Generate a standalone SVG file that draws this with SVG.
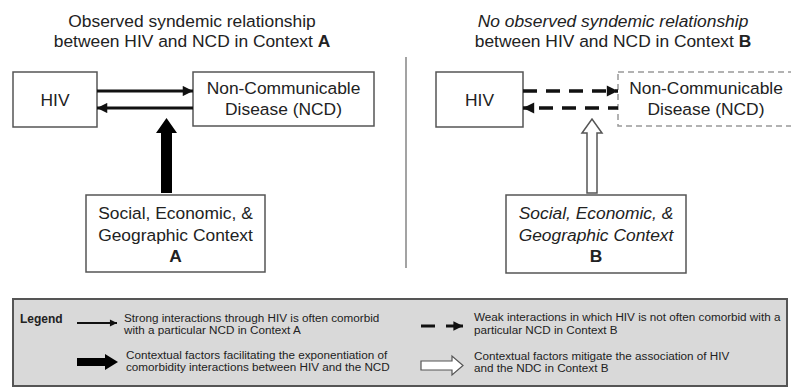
<svg xmlns="http://www.w3.org/2000/svg" width="791" height="391" viewBox="0 0 791 391">
<defs>
<style>
.t{font-family:"Liberation Sans",Arial,sans-serif;fill:#222;}
.big{font-size:17.4px;}
.it{font-style:italic;}
.lg{font-size:11.7px;fill:#222;}
.box{fill:#fff;stroke:#555;stroke-width:1.5;}
.dbox{fill:#fff;stroke:#999;stroke-width:1.5;stroke-dasharray:6 4;}
.ln{stroke:#111;stroke-width:3.2;fill:none;}
.dash{stroke:#111;stroke-width:3.5;fill:none;stroke-dasharray:14 9;}
</style>
<marker id="ah" viewBox="0 0 10 10" refX="10" refY="5" markerWidth="4" markerHeight="3.2" markerUnits="strokeWidth" orient="auto">
<path d="M0,0 L10,5 L0,10 z" fill="#111"/>
</marker>
</defs>
<rect width="791" height="391" fill="#fff"/>

<g id="titles">
<text class="t big" x="192" y="27" text-anchor="middle">Observed syndemic relationship</text>
<text class="t big" x="192" y="47" text-anchor="middle">between HIV and NCD in Context <tspan font-weight="bold">A</tspan></text>
<text class="t big it" x="613" y="27" text-anchor="middle">No observed syndemic relationship</text>
<text class="t big" x="613" y="47" text-anchor="middle">between HIV and NCD in Context <tspan font-weight="bold">B</tspan></text>
</g>

<line x1="406" y1="57" x2="406" y2="268" stroke="#666" stroke-width="1.2"/>

<g id="hivA">
<rect class="box" x="13" y="72" width="84" height="55"/>
<text class="t big" x="55" y="106" text-anchor="middle">HIV</text>
</g>
<g id="ncdA">
<rect class="box" x="193" y="72" width="181" height="54"/>
<text class="t big" x="283.5" y="94" text-anchor="middle">Non-Communicable</text>
<text class="t big" x="283.5" y="115" text-anchor="middle">Disease (NCD)</text>
</g>
<g id="ctxA">
<rect class="box" x="86" y="195" width="179" height="77"/>
<text class="t big" x="175.5" y="219" text-anchor="middle">Social, Economic, &amp;</text>
<text class="t big" x="175.5" y="241" text-anchor="middle">Geographic Context</text>
<text class="t big" x="175.5" y="262" text-anchor="middle" font-weight="bold">A</text>
</g>

<g id="hivB">
<rect class="box" x="436" y="72" width="87" height="55"/>
<text class="t big" x="479.5" y="106" text-anchor="middle">HIV</text>
</g>
<g id="ncdB">
<rect class="dbox" x="618" y="72" width="180" height="54"/>
<text class="t big" x="706" y="94" text-anchor="middle">Non-Communicable</text>
<text class="t big" x="706" y="115" text-anchor="middle">Disease (NCD)</text>
</g>
<g id="ctxB">
<rect class="box" x="506" y="195" width="180" height="78"/>
<text class="t big it" x="596" y="219" text-anchor="middle">Social, Economic, &amp;</text>
<text class="t big it" x="596" y="241" text-anchor="middle">Geographic Context</text>
<text class="t big" x="596" y="262" text-anchor="middle" font-weight="bold">B</text>
</g>

<g id="connectors">
<line class="ln" x1="97" y1="91" x2="193" y2="91" marker-end="url(#ah)"/>
<line class="ln" x1="193" y1="108" x2="97" y2="108" marker-end="url(#ah)"/>
<polygon points="161,193 161,133 156,133 166.5,118 177,133 172,133 172,193" fill="#000"/>
<line class="dash" x1="523" y1="91" x2="618" y2="91" marker-end="url(#ah)"/>
<line class="dash" x1="618" y1="108" x2="523" y2="108" marker-end="url(#ah)" stroke-dashoffset="4"/>
<polygon points="587,193 587,133 582,133 592,119 602,133 597,133 597,193" fill="#fff" stroke="#555" stroke-width="1.5"/>
</g>

<g id="legend">
<rect x="13" y="299" width="774" height="87" fill="#d9d9d9" stroke="#555" stroke-width="2"/>
<text class="t" x="20" y="323" font-size="12" font-weight="bold">Legend</text>
<line x1="77" y1="323" x2="117" y2="323" stroke="#111" stroke-width="2.2" marker-end="url(#ah)"/>
<text class="t lg" x="124" y="322">Strong interactions through HIV is often comorbid</text>
<text class="t lg" x="124" y="334">with a particular NCD in Context A</text>
<polygon points="77,358 105,358 105,354 118,362 105,370 105,366 77,366" fill="#000"/>
<text class="t lg" x="126" y="359">Contextual factors facilitating the exponentiation of</text>
<text class="t lg" x="126" y="371">comorbidity interactions between HIV and the NCD</text>
<line x1="421" y1="326" x2="435" y2="326" stroke="#111" stroke-width="3"/>
<line x1="446" y1="326" x2="463" y2="326" stroke="#111" stroke-width="3" marker-end="url(#ah)"/>
<text class="t lg" x="474" y="321">Weak interactions in which HIV is not often comorbid with a</text>
<text class="t lg" x="474" y="334">particular NCD in Context B</text>
<polygon points="421,361 452,361 452,356 463,365.5 452,375 452,370 421,370" fill="#fff" stroke="#555" stroke-width="1.2"/>
<text class="t lg" x="474" y="360">Contextual factors mitigate the association of HIV</text>
<text class="t lg" x="474" y="372">and the NDC in Context B</text>
</g>
</svg>
